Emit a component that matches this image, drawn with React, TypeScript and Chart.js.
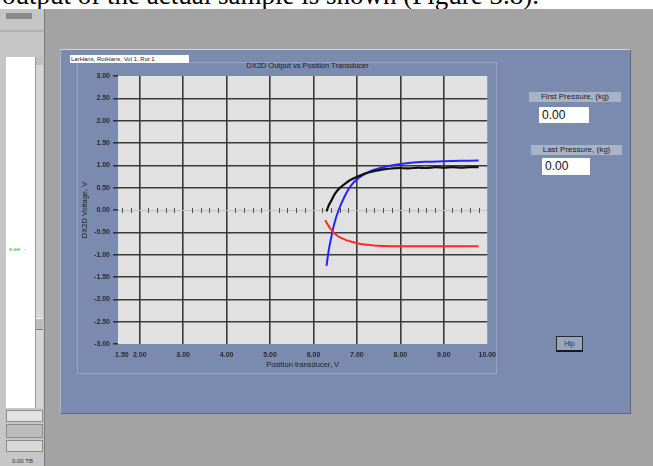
import React, { useEffect, useRef } from "react";
import { Chart, registerables } from "chart.js";

Chart.register(...registerables);

// ---- data ----
const xTickValues = [1.5, 2, 3, 4, 5, 6, 7, 8, 9, 10];
const yTickValues = [-3, -2.5, -2, -1.5, -1, -0.5, 0, 0.5, 1, 1.5, 2, 2.5, 3];

const blackX = [6.3, 6.35, 6.4, 6.5, 6.6, 6.7, 6.85, 7.0, 7.2, 7.4, 7.6, 7.8, 8.0, 8.2, 8.4, 8.6, 8.8, 9.0, 9.2, 9.4, 9.6, 9.8];
const blackY = [-0.03, 0.1, 0.19, 0.37, 0.49, 0.57, 0.67, 0.74, 0.82, 0.87, 0.91, 0.93, 0.94, 0.93, 0.95, 0.94, 0.96, 0.95, 0.96, 0.95, 0.96, 0.96];

const blueX = [6.3, 6.35, 6.41, 6.48, 6.58, 6.7, 6.85, 7.04, 7.31, 7.62, 7.93, 8.24, 8.6, 9.0, 9.4, 9.8];
const blueY = [-1.25, -0.91, -0.61, -0.3, 0.0, 0.27, 0.53, 0.72, 0.87, 0.96, 1.02, 1.06, 1.08, 1.09, 1.1, 1.11];

const redX = [6.27, 6.33, 6.39, 6.46, 6.54, 6.65, 6.77, 6.92, 7.08, 7.25, 7.46, 7.8, 8.24, 8.8, 9.3, 9.8];
const redY = [-0.23, -0.33, -0.42, -0.5, -0.57, -0.63, -0.68, -0.72, -0.76, -0.78, -0.8, -0.81, -0.81, -0.81, -0.81, -0.81];

const chartTitle = "DX2D Output vs Position Transducer";
const xTitle = "Position transducer, V";
const yTitle = "DX2D Voltage, V";

const zip = (xs: number[], ys: number[]) => xs.map((x, i) => ({ x, y: ys[i] }));

const FONT = "'Liberation Sans', Arial, sans-serif";

const plotBgPlugin = {
  id: "plotBg",
  beforeDraw(chart: any) {
    const { ctx, chartArea } = chart;
    ctx.save();
    ctx.fillStyle = "#e1e1e1";
    ctx.fillRect(chartArea.left, chartArea.top, chartArea.right - chartArea.left, chartArea.bottom - chartArea.top);
    ctx.restore();
  },
};

const zeroAxisPlugin = {
  id: "zeroAxis",
  beforeDatasetsDraw(chart: any) {
    const { ctx, scales } = chart;
    const xs = scales.x;
    const ys = scales.y;
    const y0 = Math.round(ys.getPixelForValue(0)) + 0.5;
    ctx.save();
    ctx.strokeStyle = "#c4c4c4";
    ctx.lineWidth = 1;
    ctx.beginPath();
    ctx.moveTo(xs.left, y0);
    ctx.lineTo(xs.right, y0);
    ctx.stroke();
    ctx.strokeStyle = "#505050";
    for (let i = 8; i <= 49; i++) {
      const v = i / 5;
      if (i % 5 === 0) continue;
      const px = Math.round(xs.getPixelForValue(v)) + 0.5;
      ctx.beginPath();
      ctx.moveTo(px, y0 - 2.5);
      ctx.lineTo(px, y0 + 2.5);
      ctx.stroke();
    }
    ctx.restore();
  },
};

function PlotChart() {
  const ref = useRef<HTMLCanvasElement | null>(null);
  useEffect(() => {
    if (!ref.current) return;
    const gridColor = (edgeVals: number[]) => (c: any) => {
      const v = c.tick ? c.tick.value : null;
      if (v === null || edgeVals.some((e) => Math.abs(e - v) < 1e-9)) return "rgba(0,0,0,0)";
      return "#3a3a3a";
    };
    const chart = new Chart(ref.current, {
      type: "scatter",
      data: {
        datasets: [
          { data: zip(redX, redY), borderColor: "#ff2a2a", showLine: true, pointRadius: 0, borderWidth: 2, tension: 0.35 },
          { data: zip(blackX, blackY), borderColor: "#111111", showLine: true, pointRadius: 0, borderWidth: 2.2, tension: 0.35 },
          { data: zip(blueX, blueY), borderColor: "#2424ff", showLine: true, pointRadius: 0, borderWidth: 2, tension: 0.35 },
        ],
      },
      options: {
        animation: false,
        responsive: false,
        events: [],
        layout: { padding: { top: 8, right: 10, left: 0, bottom: 0 } },
        plugins: { legend: { display: false }, tooltip: { enabled: false }, title: { display: false } },
        scales: {
          x: {
            type: "linear",
            min: 1.5,
            max: 10,
            afterBuildTicks: (s: any) => {
              s.ticks = xTickValues.map((v) => ({ value: v }));
            },
            afterFit: (s: any) => {
              s.height = 28;
            },
            border: { display: false },
            grid: { color: gridColor([1.5, 10]), lineWidth: 1.6, drawTicks: false },
            ticks: {
              padding: 7,
              maxRotation: 0,
              autoSkip: false,
              color: "#2a2a2a",
              font: { family: FONT, size: 7, weight: "bold" },
              callback: (v: any) => (Number(v) === 1.5 ? "    " + Number(v).toFixed(2) : Number(v).toFixed(2)),
            },
            title: { display: true, text: xTitle, color: "#1e1e1e", font: { family: FONT, size: 7.5 }, padding: { top: 0, bottom: 3 } },
          },
          y: {
            type: "linear",
            min: -3,
            max: 3,
            afterBuildTicks: (s: any) => {
              s.ticks = yTickValues.map((v) => ({ value: v }));
            },
            afterFit: (s: any) => {
              s.width = 48;
            },
            border: { display: false },
            grid: { color: gridColor([-3, 0, 3]), lineWidth: 1.6, drawTicks: true, tickLength: 5, tickColor: "#333" },
            ticks: {
              padding: 3,
              autoSkip: false,
              color: "#2a2a2a",
              font: { family: FONT, size: 7, weight: "bold" },
              callback: (v: any) => Number(v).toFixed(2),
            },
            title: { display: true, text: yTitle, color: "#1e1e1e", font: { family: FONT, size: 7.5 }, padding: { top: 10, bottom: 0 } },
          },
        },
      },
      plugins: [plotBgPlugin, zeroAxisPlugin],
    } as any);
    return () => chart.destroy();
  }, []);
  return (
    <canvas
      ref={ref}
      width={433}
      height={304}
      style={{ position: "absolute", left: 70, top: 68, width: 433, height: 304 }}
    />
  );
}

const abs = (s: React.CSSProperties): React.CSSProperties => ({ position: "absolute", ...s });

export default function App() {
  return (
    <div
      style={{
        position: "fixed",
        left: 0,
        top: 0,
        width: 653,
        height: 466,
        overflow: "hidden",
        background: "#a3a3a3",
        fontFamily: FONT,
      }}
    >
      {/* document text strip */}
      <div style={abs({ left: 0, top: 0, width: 653, height: 9, background: "#fff", overflow: "hidden" })}>
        <span
          style={abs({ left: 2, top: -20, fontFamily: "'Liberation Serif', 'Times New Roman', serif", fontSize: 27, whiteSpace: "nowrap", color: "#000" })}
        >
          output of the actual sample is shown (Figure 3.8).
        </span>
      </div>

      {/* left window */}
      <div style={abs({ left: 0, top: 9, width: 45, height: 457, background: "#c6c6c6" })} />
      <div style={abs({ left: 6, top: 13, width: 26, height: 6, background: "#8a8a8a" })} />
      <div style={abs({ left: 0, top: 30, width: 45, height: 2, background: "#b0b0b0" })} />
      <div style={abs({ left: 6, top: 57, width: 29, height: 351, background: "#ffffff" })} />
      <div style={abs({ left: 35, top: 57, width: 8, height: 351, background: "#d6d6d6", borderLeft: "1px solid #9a9a9a", boxSizing: "border-box" })} />
      <div style={abs({ left: 36, top: 57, width: 7, height: 8, background: "#c0c0c0" })} />
      <div style={abs({ left: 36, top: 318, width: 7, height: 12, background: "#bdbdbd", borderTop: "1px solid #fff", borderBottom: "1px solid #777", boxSizing: "border-box" })} />
      <div style={abs({ left: 44, top: 9, width: 1, height: 457, background: "#7a7a7a" })} />
      <div style={abs({ left: 9, top: 246, fontSize: 6, color: "#33aa33", whiteSpace: "nowrap" })}>s.ee&nbsp;&nbsp;-</div>
      <div style={abs({ left: 6, top: 410, width: 37, height: 12, background: "#e2e2e2", border: "1px solid #8a8a8a", boxSizing: "border-box" })} />
      <div style={abs({ left: 6, top: 424, width: 37, height: 14, background: "#bcbcbc", border: "1px solid #8a8a8a", boxSizing: "border-box" })} />
      <div style={abs({ left: 6, top: 440, width: 37, height: 12, background: "#d8d8d8", border: "1px solid #8a8a8a", boxSizing: "border-box" })} />
      <div style={abs({ left: 12, top: 458, fontSize: 6, color: "#333", whiteSpace: "nowrap" })}>0.00 TB</div>

      {/* main panel */}
      <div
        style={abs({
          left: 60,
          top: 49,
          width: 571,
          height: 365,
          background: "#7a8baf",
          borderTop: "1px solid #cdd3df",
          borderLeft: "1px solid #aeb8cb",
          borderRight: "1px solid #5c677e",
          borderBottom: "1px solid #5c677e",
          boxSizing: "border-box",
        })}
      />
      <div style={abs({ left: 77, top: 62, width: 420, height: 312, border: "1px solid #98a5c0", boxSizing: "border-box" })} />
      <div
        style={abs({
          left: 70,
          top: 55,
          width: 119,
          height: 8,
          background: "#fff",
          fontSize: 6,
          lineHeight: "8px",
          color: "#222",
          overflow: "hidden",
          whiteSpace: "nowrap",
          paddingLeft: 1,
          boxSizing: "border-box",
        })}
      >
        LarHans, RotHans, Vol 1, Rot 1
      </div>
      <div style={abs({ left: 200, top: 61, width: 215, textAlign: "center", fontSize: 7.5, color: "#1b2030", whiteSpace: "nowrap" })}>
        {chartTitle}
      </div>

      <PlotChart />

      {/* right controls */}
      <div style={abs({ left: 529, top: 92, width: 92, height: 10, background: "#a9b3c8", fontSize: 8, lineHeight: "10px", color: "#1a1a1a", textAlign: "center", whiteSpace: "nowrap" })}>
        First Pressure, (kg)
      </div>
      <div style={abs({ left: 539, top: 107, width: 50, height: 16, background: "#fff", fontSize: 12, lineHeight: "16px", color: "#111", paddingLeft: 3, boxSizing: "border-box" })}>
        0.00
      </div>
      <div style={abs({ left: 531, top: 145, width: 91, height: 10, background: "#a9b3c8", fontSize: 8, lineHeight: "10px", color: "#1a1a1a", textAlign: "center", whiteSpace: "nowrap" })}>
        Last Pressure, (kg)
      </div>
      <div style={abs({ left: 542, top: 158, width: 48, height: 17, background: "#fff", fontSize: 12, lineHeight: "17px", color: "#111", paddingLeft: 3, boxSizing: "border-box" })}>
        0.00
      </div>
      <div
        style={abs({
          left: 556,
          top: 336,
          width: 27,
          height: 16,
          background: "#9aa5bd",
          border: "1px solid #2a2a2a",
          borderBottom: "2px solid #1a1a1a",
          boxSizing: "border-box",
          fontSize: 7,
          lineHeight: "13px",
          textAlign: "center",
          color: "#333",
        })}
      >
        Hlp
      </div>
    </div>
  );
}
